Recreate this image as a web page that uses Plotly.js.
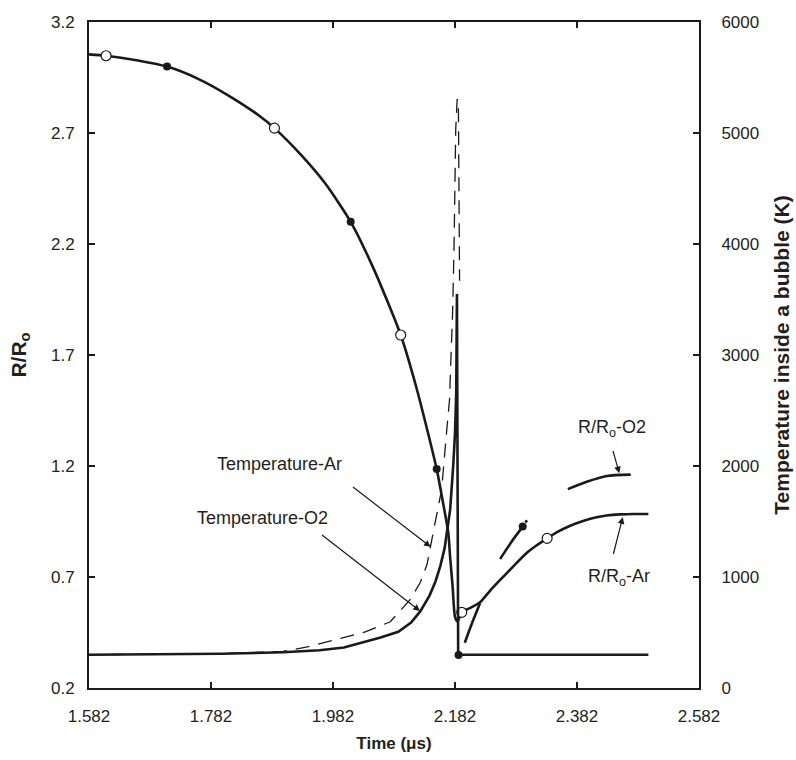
<!DOCTYPE html>
<html><head><meta charset="utf-8">
<script src="https://cdn.plot.ly/plotly-3.0.1.min.js"></script>
<style>html,body{margin:0;padding:0;background:#fff}</style>
</head><body>
<div id="chart" style="width:796px;height:760px"></div>
<script>
// ---- data ----
const xTickVals = [1.582, 1.782, 1.982, 2.182, 2.382, 2.582];
const xTickText = ["1.582", "1.782", "1.982", "2.182", "2.382", "2.582"];

// R/Ro (Ar) - full curve (shared with O2 before collapse)
const rTime = [1.582,1.610,1.660,1.710,1.760,1.810,1.860,1.886,1.930,1.970,2.011,2.050,2.093,2.120,2.152,2.162,2.171,2.174,2.178,2.182,2.186,2.193,2.208,2.223,2.240,2.261,2.280,2.299,2.316,2.333,2.350,2.370,2.392,2.414,2.433,2.452,2.475,2.499];
const rAr   = [3.054,3.048,3.028,2.999,2.945,2.870,2.780,2.722,2.600,2.470,2.300,2.080,1.790,1.540,1.186,1.040,0.900,0.790,0.660,0.520,0.500,0.541,0.562,0.586,0.640,0.701,0.755,0.807,0.843,0.874,0.903,0.930,0.952,0.969,0.978,0.982,0.984,0.984];

// R/Ro (O2) after collapse - broken segments
const o2Time = [2.198,2.210,2.223,2.240,2.256,2.275,2.293,2.2965,2.2975,2.300,2.330,2.367,2.398,2.431,2.470];
const rO2    = [0.404,0.493,0.582,null,0.781,0.860,0.927,null,0.946,0.956,null,1.096,1.129,1.155,1.161];

// markers
const arMarkTime = [1.610, 1.886, 2.093, 2.193, 2.333];
const arMarkR    = [3.048, 2.722, 1.790, 0.541, 0.874];
const o2MarkTime = [1.710, 2.011, 2.152, 2.1878, 2.293];
const o2MarkR    = [2.999, 2.300, 1.186, 0.349, 0.927];

// Temperature-O2 (solid), K
const tO2Time = [1.582,1.700,1.800,1.900,1.960,2.000,2.036,2.060,2.089,2.110,2.125,2.140,2.150,2.158,2.165,2.170,2.174,2.179,2.182,2.184,2.1852,2.1872,2.300,2.400,2.499];
const tO2     = [300,302,308,322,340,365,420,455,507,590,690,830,960,1100,1260,1430,1604,1994,2295,2650,3550,300,300,300,300];

// Temperature-Ar (dashed), K
const tArTime = [1.582,1.700,1.800,1.900,1.940,1.982,2.036,2.076,2.108,2.125,2.136,2.146,2.153,2.160,2.168,2.173,2.1755,2.178,2.1805,2.1832,2.1855,2.1875,2.1885,2.1895];
const tAr     = [300,302,310,330,370,430,507,597,793,950,1110,1394,1590,1784,2295,2595,3000,3370,4000,5036,5300,5300,4500,3670];

// ---- chart ----
const ink = '#1a1a1a';
const txt = '#231f20';
const font = 'Liberation Sans, Arial, sans-serif';
const tickFont = {family: font, size: 17, color: txt};
const xTitleFont = {family: font, size: 17, color: txt};
const yTitleFont = {family: font, size: 21, color: txt};

const traces = [
  {x: tArTime, y: tAr, yaxis: 'y2', mode: 'lines', line: {color: ink, width: 1.3, dash: '14px,9px'}, hoverinfo: 'skip'},
  {x: tO2Time, y: tO2, yaxis: 'y2', mode: 'lines', line: {color: ink, width: 2.6}, hoverinfo: 'skip'},
  {x: rTime, y: rAr, mode: 'lines', line: {color: ink, width: 2.6, shape: 'spline', smoothing: 0.6}, hoverinfo: 'skip'},
  {x: o2Time, y: rO2, mode: 'lines', connectgaps: false, line: {color: ink, width: 2.6, shape: 'spline', smoothing: 0.6}, hoverinfo: 'skip'},
  {x: o2MarkTime, y: o2MarkR, mode: 'markers', marker: {symbol: 'circle', size: 8, color: ink}, hoverinfo: 'skip'},
  {x: arMarkTime, y: arMarkR, mode: 'markers', marker: {symbol: 'circle', size: 10, color: '#ffffff', line: {color: ink, width: 1.2}}, hoverinfo: 'skip'}
];

const arrowStyle = {showarrow: true, arrowhead: 2, arrowsize: 1.1, arrowwidth: 1.2, arrowcolor: ink, axref: 'x', ayref: 'y', text: ' ', standoff: 0, startstandoff: 0};
const labelFont = {family: font, size: 18, color: txt};

const layout = {
  width: 796, height: 760,
  margin: {l: 89, r: 97, t: 22, b: 72},
  paper_bgcolor: '#fff', plot_bgcolor: '#fff',
  showlegend: false,
  font: {family: font, size: 17, color: txt},
  xaxis: {
    range: [1.582, 2.582], tickvals: xTickVals, ticktext: xTickText,
    ticks: 'inside', ticklen: 6, tickwidth: 1.2, tickcolor: ink,
    showline: true, linecolor: ink, linewidth: 2, mirror: 'ticks',
    showgrid: false, zeroline: false, ticklabelstandoff: 12,
    tickfont: tickFont,
    title: {text: '<b>Time (μs)</b>', font: xTitleFont, standoff: 12}
  },
  yaxis: {
    range: [0.2, 3.2], tick0: 0.2, dtick: 0.5, tickformat: '.1f',
    ticks: 'inside', ticklen: 6, tickwidth: 1.2, tickcolor: ink,
    showline: true, linecolor: ink, linewidth: 2,
    showgrid: false, zeroline: false, ticklabelstandoff: 9,
    tickfont: tickFont,
    title: {text: '<b>R/R<sub>o</sub></b>', font: yTitleFont, standoff: 19}
  },
  yaxis2: {
    overlaying: 'y', side: 'right',
    range: [0, 6000], dtick: 1000,
    ticks: 'inside', ticklen: 6, tickwidth: 1.2, tickcolor: ink,
    showline: true, linecolor: ink, linewidth: 2,
    showgrid: false, zeroline: false, ticklabelstandoff: 17,
    tickfont: tickFont,
    title: {text: '<b>Temperature inside a bubble (K)</b>', font: yTitleFont, standoff: 16}
  },
  annotations: [
    {x: 1.8951, y: 1.209, xref: 'x', yref: 'y', text: 'Temperature-Ar', showarrow: false, font: labelFont},
    Object.assign({x: 2.142, y: 0.836, ax: 2.0082, ay: 1.119, xref: 'x', yref: 'y'}, arrowStyle),
    {x: 1.8656, y: 0.966, xref: 'x', yref: 'y', text: 'Temperature-O2', showarrow: false, font: labelFont},
    Object.assign({x: 2.1246, y: 0.547, ax: 1.9574, ay: 0.903, xref: 'x', yref: 'y'}, arrowStyle),
    {x: 2.4394, y: 1.37, xref: 'x', yref: 'y', text: 'R/R<sub>o</sub>-O2', showarrow: false, font: labelFont},
    Object.assign({x: 2.4513, y: 1.167, ax: 2.436, ay: 1.317, xref: 'x', yref: 'y'}, arrowStyle),
    {x: 2.4508, y: 0.70, xref: 'x', yref: 'y', text: 'R/R<sub>o</sub>-Ar', showarrow: false, font: labelFont},
    Object.assign({x: 2.457, y: 0.969, ax: 2.437, ay: 0.754, xref: 'x', yref: 'y'}, arrowStyle)
  ]
};

Plotly.newPlot('chart', traces, layout, {displayModeBar: false, staticPlot: true});
</script>
</body></html>
